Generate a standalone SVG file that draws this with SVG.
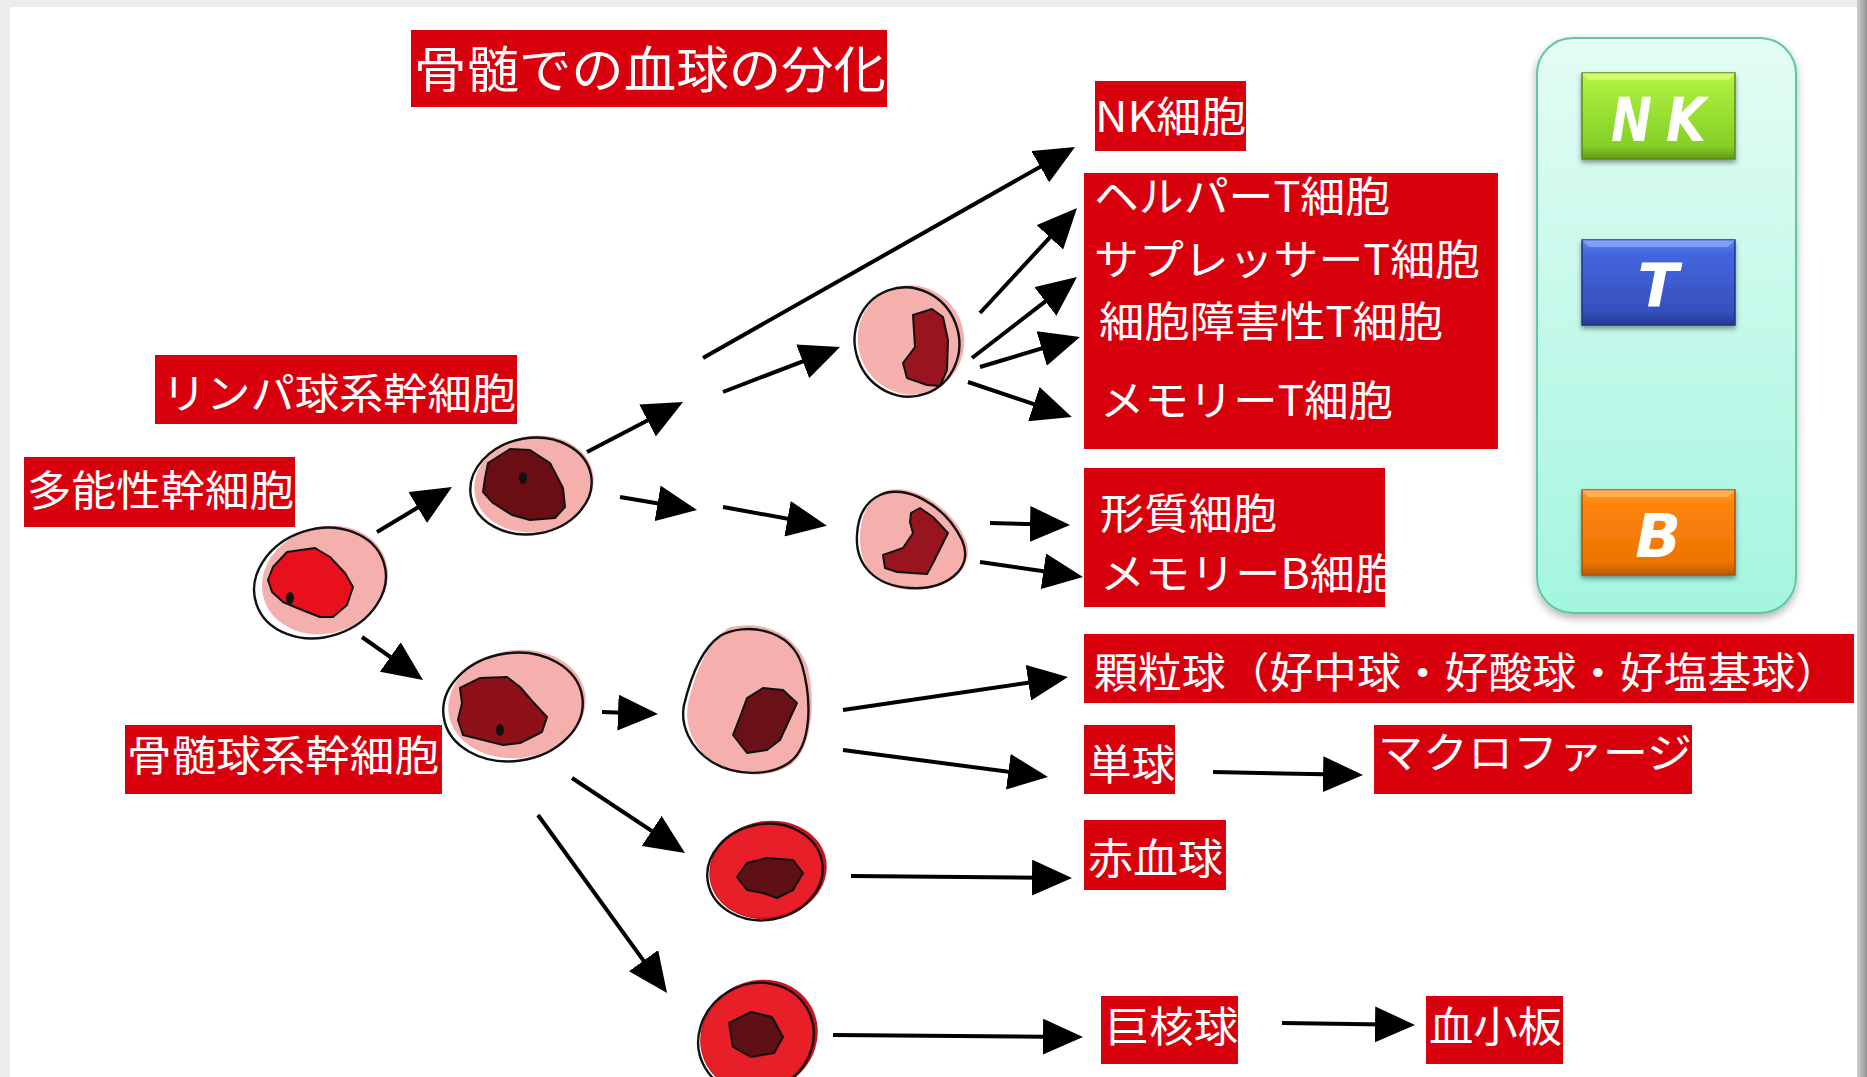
<svg xmlns="http://www.w3.org/2000/svg" width="1867" height="1077" viewBox="0 0 1867 1077">
  <style>
    .box { fill: #d9000e; }
    .lbl { font-family: "Noto Sans CJK JP", "Noto Sans", sans-serif; font-size: 42px; fill: #ffffff; }
    .ttl { font-size: 50px; }
    .arrow { fill: none; stroke: #000; stroke-width: 4; marker-end: url(#head); }
    .outline { fill: none; stroke: #111; stroke-width: 2.4; }
    .pink { fill: #f5b0ad; }
    .rbc { fill: #e81e29; }
    .nuc { stroke: #111; stroke-width: 2; stroke-linejoin: round; }
    .dot { fill: #111; }
    .key { font-family: "DejaVu Sans", Verdana, sans-serif; font-weight: bold; font-style: italic; font-size: 60px; fill: #ffffff; text-anchor: middle; }
    .keyl { text-anchor: start; }
  </style>
  <defs>
    <marker id="head" markerUnits="userSpaceOnUse" viewBox="0 0 40 36" markerWidth="40" markerHeight="36" refX="28" refY="18" orient="auto">
      <path d="M0,0 L40,18 L0,36 Z" fill="#000"/>
    </marker>
    <linearGradient id="legendFill" x1="0" y1="0" x2="0" y2="1">
      <stop offset="0" stop-color="#e4fcf6"/>
      <stop offset="1" stop-color="#a4f6de"/>
    </linearGradient>
    <linearGradient id="greenFill" x1="0" y1="0" x2="0" y2="1">
      <stop offset="0" stop-color="#c2f84e"/>
      <stop offset="0.15" stop-color="#a8ee3c"/>
      <stop offset="0.85" stop-color="#86cf26"/>
      <stop offset="1" stop-color="#5e9a16"/>
    </linearGradient>
    <linearGradient id="blueFill" x1="0" y1="0" x2="0" y2="1">
      <stop offset="0" stop-color="#5f86f0"/>
      <stop offset="0.15" stop-color="#4466e0"/>
      <stop offset="0.85" stop-color="#3550bc"/>
      <stop offset="1" stop-color="#233890"/>
    </linearGradient>
    <linearGradient id="orangeFill" x1="0" y1="0" x2="0" y2="1">
      <stop offset="0" stop-color="#ffa030"/>
      <stop offset="0.15" stop-color="#ff8410"/>
      <stop offset="0.85" stop-color="#ee7400"/>
      <stop offset="1" stop-color="#b85a00"/>
    </linearGradient>
    <linearGradient id="edgeShade" x1="0" y1="0" x2="1" y2="0">
      <stop offset="0" stop-color="#d0d0d0"/>
      <stop offset="1" stop-color="#939393"/>
    </linearGradient>
    <filter id="softShadow" x="-20%" y="-20%" width="140%" height="140%">
      <feDropShadow dx="0" dy="4" stdDeviation="4" flood-color="#000" flood-opacity="0.3"/>
    </filter>
    <filter id="btnShadow" x="-20%" y="-20%" width="140%" height="150%">
      <feDropShadow dx="0" dy="3" stdDeviation="2.5" flood-color="#000" flood-opacity="0.4"/>
    </filter>
  </defs>

  <!-- page -->
  <rect width="1867" height="1077" fill="#ececec"/>
  <rect x="10" y="7" width="1847" height="1070" fill="#ffffff"/>
  <rect x="1857" y="0" width="10" height="1077" fill="url(#edgeShade)"/>

  <!-- title -->
  <g id="title">
    <rect class="box" x="411" y="30" width="476" height="77"/>
    <text class="lbl ttl" x="414" y="88" textLength="472" lengthAdjust="spacingAndGlyphs">骨髄での血球の分化</text>
  </g>

  <!-- stem cell labels -->
  <g id="label-lymphoid">
    <rect class="box" x="155" y="355" width="362" height="69"/>
    <text class="lbl" x="162" y="409" textLength="354" lengthAdjust="spacingAndGlyphs">リンパ球系幹細胞</text>
  </g>
  <g id="label-pluripotent">
    <rect class="box" x="24" y="457" width="271" height="70"/>
    <text class="lbl" x="27" y="506" textLength="267" lengthAdjust="spacingAndGlyphs">多能性幹細胞</text>
  </g>
  <g id="label-myeloid">
    <rect class="box" x="125" y="725" width="317" height="69"/>
    <text class="lbl" x="127" y="771" textLength="312" lengthAdjust="spacingAndGlyphs">骨髄球系幹細胞</text>
  </g>

  <!-- mature cell labels -->
  <g id="label-nk">
    <rect class="box" x="1095" y="81" width="151" height="70"/>
    <text class="lbl" x="1095" y="132" textLength="151" lengthAdjust="spacingAndGlyphs">NK細胞</text>
  </g>
  <g id="label-t">
    <rect class="box" x="1084" y="173" width="414" height="276"/>
    <text class="lbl" x="1094" y="212" textLength="296" lengthAdjust="spacingAndGlyphs">ヘルパーT細胞</text>
    <text class="lbl" x="1094" y="275" textLength="386" lengthAdjust="spacingAndGlyphs">サプレッサーT細胞</text>
    <text class="lbl" x="1099" y="337" textLength="344" lengthAdjust="spacingAndGlyphs">細胞障害性T細胞</text>
    <text class="lbl" x="1100" y="416" textLength="293" lengthAdjust="spacingAndGlyphs">メモリーT細胞</text>
  </g>
  <g id="label-b">
    <clipPath id="bClip"><rect x="1084" y="468" width="301" height="139"/></clipPath>
    <rect class="box" x="1084" y="468" width="301" height="139"/>
    <g clip-path="url(#bClip)">
      <text class="lbl" x="1100" y="529" textLength="177" lengthAdjust="spacingAndGlyphs">形質細胞</text>
      <text class="lbl" x="1100" y="589" textLength="300" lengthAdjust="spacingAndGlyphs">メモリーB細胞</text>
    </g>
  </g>
  <g id="label-granulocyte">
    <rect class="box" x="1084" y="634" width="770" height="69"/>
    <text class="lbl" x="1094" y="688" textLength="745" lengthAdjust="spacingAndGlyphs">顆粒球（好中球・好酸球・好塩基球）</text>
  </g>
  <g id="label-monocyte">
    <rect class="box" x="1084" y="725" width="91" height="69"/>
    <text class="lbl" x="1088" y="780" textLength="87" lengthAdjust="spacingAndGlyphs">単球</text>
  </g>
  <g id="label-macrophage">
    <rect class="box" x="1374" y="725" width="318" height="69"/>
    <text class="lbl" x="1378" y="768" textLength="314" lengthAdjust="spacingAndGlyphs">マクロファージ</text>
  </g>
  <g id="label-erythrocyte">
    <rect class="box" x="1084" y="820" width="142" height="70"/>
    <text class="lbl" x="1088" y="874" textLength="135" lengthAdjust="spacingAndGlyphs">赤血球</text>
  </g>
  <g id="label-megakaryocyte">
    <rect class="box" x="1101" y="996" width="137" height="68"/>
    <text class="lbl" x="1105" y="1042" textLength="133" lengthAdjust="spacingAndGlyphs">巨核球</text>
  </g>
  <g id="label-platelet">
    <rect class="box" x="1426" y="996" width="137" height="68"/>
    <text class="lbl" x="1429" y="1042" textLength="133" lengthAdjust="spacingAndGlyphs">血小板</text>
  </g>

  <!-- cells -->
  <g id="cell-pluripotent">
    <ellipse class="pink" cx="325" cy="580" rx="64" ry="53" transform="rotate(-18 325 580)"/>
    <ellipse class="outline" cx="320" cy="583" rx="67" ry="54" transform="rotate(-18 320 583)"/>
    <polygon class="nuc" fill="#e8101c" points="273,567 287,552 315,548 330,557 345,573 353,587 347,605 333,617 320,617 302,610 283,602 272,592 268,580"/>
    <ellipse class="dot" cx="290" cy="598" rx="4" ry="6"/>
  </g>
  <g id="cell-lymphoid">
    <ellipse class="pink" cx="534" cy="484" rx="60" ry="48" transform="rotate(-10 534 484)"/>
    <ellipse class="outline" cx="531" cy="486" rx="61" ry="48" transform="rotate(-10 531 486)"/>
    <polygon class="nuc" fill="#6a0e14" points="488,463 510,449 530,450 550,463 563,488 565,507 555,518 530,520 512,515 493,503 483,492 485,478"/>
    <ellipse class="dot" cx="523" cy="478" rx="4" ry="6"/>
  </g>
  <g id="cell-myeloid">
    <ellipse class="pink" cx="517" cy="704" rx="69" ry="54" transform="rotate(-8 517 704)"/>
    <ellipse class="outline" cx="513" cy="707" rx="70" ry="54" transform="rotate(-8 513 707)"/>
    <polygon class="nuc" fill="#8e1019" points="460,688 480,678 507,677 520,687 533,702 547,717 542,732 520,743 503,745 483,740 463,735 458,720 462,703"/>
    <ellipse class="dot" cx="500" cy="730" rx="4" ry="6"/>
  </g>
  <g id="cell-t-precursor">
    <ellipse class="pink" cx="911" cy="340" rx="53" ry="55" transform="rotate(-20 911 340)"/>
    <ellipse class="outline" cx="907" cy="342" rx="52" ry="55" transform="rotate(-20 907 342)"/>
    <polygon class="nuc" fill="#981520" points="913,315 932,309 943,317 948,340 947,370 940,386 927,385 907,378 903,363 915,347"/>
  </g>
  <g id="cell-b-precursor">
    <path class="pink" d="M883,492 C908,481 948,503 965,538 C978,568 948,590 912,590 C877,588 858,566 860,535 C861,515 868,500 883,492 Z"/>
    <path class="outline" d="M880,495 C905,483 945,505 962,540 C975,570 945,590 910,588 C875,586 855,565 857,535 C858,515 865,502 880,495 Z"/>
    <polygon class="nuc" fill="#981520" points="911,513 920,508 933,517 948,533 933,563 927,574 897,572 885,568 883,555 903,548 913,533 910,522"/>
  </g>
  <g id="cell-granulo-mono-precursor">
    <path class="pink" d="M728,628 C755,620 795,628 808,668 C816,702 812,748 792,764 C772,778 737,778 716,764 C694,750 684,726 688,704 C694,678 706,642 728,628 Z"/>
    <path class="outline" d="M720,636 C745,622 790,628 802,665 C812,700 812,745 790,762 C770,777 735,776 712,762 C690,748 680,725 684,705 C690,680 700,650 720,636 Z"/>
    <polygon class="nuc" fill="#6a1118" points="747,698 763,688 783,690 797,703 780,740 767,750 747,753 733,735 740,717"/>
  </g>
  <g id="cell-erythroid">
    <ellipse cx="768" cy="870" rx="59" ry="49" fill="#c8161e" transform="rotate(-10 768 870)"/>
    <ellipse class="rbc" cx="766" cy="871" rx="56" ry="46" transform="rotate(-10 766 871)"/>
    <ellipse class="outline" cx="765" cy="872" rx="58" ry="48" transform="rotate(-10 765 872)"/>
    <polygon class="nuc" fill="#5e1015" points="737,877 747,863 767,858 793,860 803,873 793,890 777,898 763,893 747,890"/>
  </g>
  <g id="cell-megakaryocyte-precursor">
    <ellipse cx="759" cy="1036" rx="60" ry="55" fill="#c8161e" transform="rotate(-30 759 1036)"/>
    <ellipse class="rbc" cx="757" cy="1037" rx="57" ry="52" transform="rotate(-30 757 1037)"/>
    <ellipse class="outline" cx="756" cy="1038" rx="59" ry="54" transform="rotate(-30 756 1038)"/>
    <polygon class="nuc" fill="#5e1015" points="729,1023 751,1012 772,1017 783,1037 774,1053 751,1057 733,1047"/>
  </g>

  <!-- legend -->
  <g id="legend">
    <rect x="1537" y="38" width="259" height="575" rx="36" ry="36" fill="url(#legendFill)" stroke="#5ec6a6" stroke-width="2" filter="url(#softShadow)"/>
    <g id="key-nk" filter="url(#btnShadow)">
      <rect x="1582" y="73" width="153" height="86" fill="url(#greenFill)" stroke="#5a8c18" stroke-width="1.5"/>
      <polygon points="1582,73 1735,73 1728,80 1589,80" fill="#e4ff80" opacity="0.6"/>
      <text class="key keyl" x="1611" y="141" textLength="41" lengthAdjust="spacingAndGlyphs">N</text>
      <text class="key keyl" x="1666" y="141" textLength="40" lengthAdjust="spacingAndGlyphs">K</text>
    </g>
    <g id="key-t" filter="url(#btnShadow)">
      <rect x="1582" y="240" width="153" height="85" fill="url(#blueFill)" stroke="#1f3288" stroke-width="1.5"/>
      <polygon points="1582,240 1735,240 1728,247 1589,247" fill="#9ab4ff" opacity="0.6"/>
      <text class="key" x="1658" y="307">T</text>
    </g>
    <g id="key-b" filter="url(#btnShadow)">
      <rect x="1582" y="490" width="153" height="85" fill="url(#orangeFill)" stroke="#a85200" stroke-width="1.5"/>
      <polygon points="1582,490 1735,490 1728,497 1589,497" fill="#ffc070" opacity="0.6"/>
      <text class="key" x="1658" y="557">B</text>
    </g>
  </g>

  <!-- connectors -->
  <g id="connectors">
    <path class="arrow" d="M377,532 L441.7,493.2"/>
    <path class="arrow" d="M362,637 L413.2,673.1"/>
    <path class="arrow" d="M587,452 L672.4,407.5"/>
    <path class="arrow" d="M620,497 L685.2,508"/>
    <path class="arrow" d="M703,358 L1064.6,152.9"/>
    <path class="arrow" d="M723,392 L828.8,351.3"/>
    <path class="arrow" d="M723,507 L815.1,523.7"/>
    <path class="arrow" d="M980,313 L1068.9,216.8"/>
    <path class="arrow" d="M972,358 L1067.5,284.3"/>
    <path class="arrow" d="M980,367 L1068.5,340.4"/>
    <path class="arrow" d="M968,382 L1060.4,413.1"/>
    <path class="arrow" d="M990,523 L1058,524.7"/>
    <path class="arrow" d="M980,562 L1071.1,575.3"/>
    <path class="arrow" d="M602,712 L646,713.6"/>
    <path class="arrow" d="M843,710 L1056.1,678.7"/>
    <path class="arrow" d="M843,750 L1036.1,775.4"/>
    <path class="arrow" d="M572,778 L675,846.4"/>
    <path class="arrow" d="M538,815 L660,983.3"/>
    <path class="arrow" d="M851,876 L1060,877.9"/>
    <path class="arrow" d="M833,1035 L1071,1036.9"/>
    <path class="arrow" d="M1213,772 L1351,774.8"/>
    <path class="arrow" d="M1282,1023 L1403,1024.8"/>
  </g>
</svg>
